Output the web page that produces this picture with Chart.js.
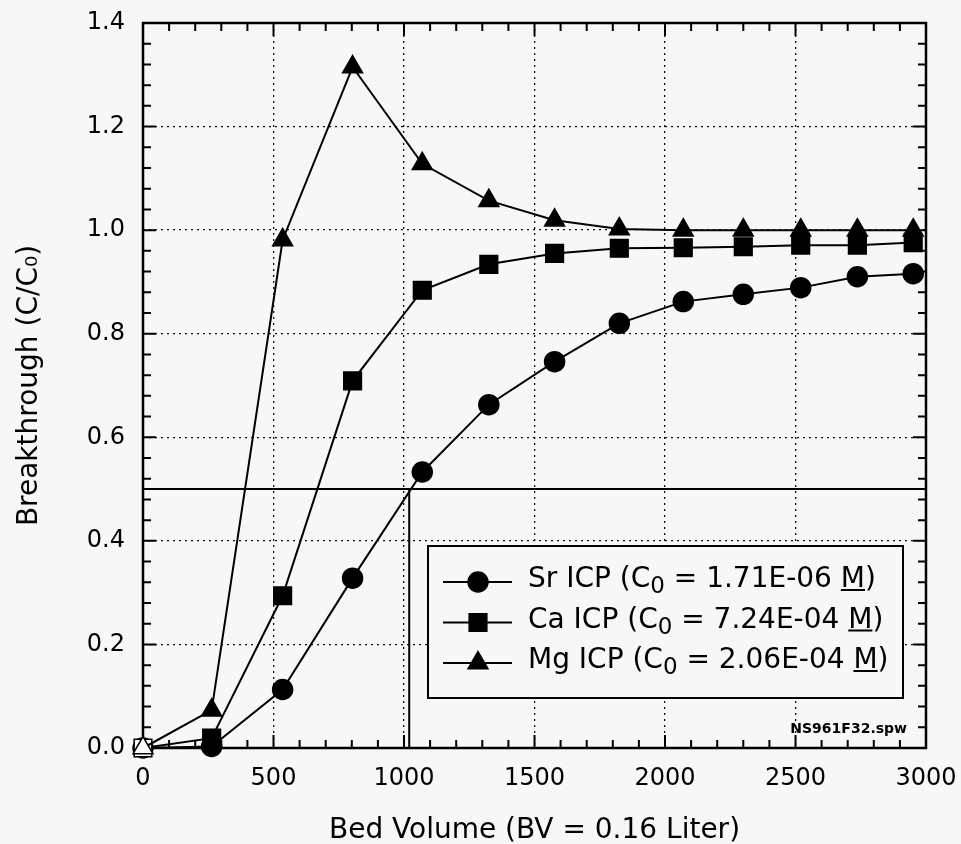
<!DOCTYPE html>
<html>
<head>
<meta charset="utf-8">
<script src="https://cdn.jsdelivr.net/npm/chart.js@4.4.1/dist/chart.umd.min.js"></script>
<style>
  html, body { margin: 0; padding: 0; background: #f7f7f7; }
  canvas { display: block; }
</style>
</head>
<body>
<canvas id="bt" width="961" height="844"></canvas>
<script>
// bed volumes (BV) of the samples
const bedVolume = [0, 263, 535, 803, 1070, 1325, 1577, 1825, 2070, 2300, 2520, 2737, 2951];
// breakthrough C/C0
const srICP = [0, 0.003, 0.113, 0.328, 0.533, 0.663, 0.746, 0.820, 0.862, 0.876, 0.889, 0.910, 0.916];
const caICP = [0, 0.019, 0.294, 0.709, 0.884, 0.934, 0.955, 0.965, 0.966, 0.968, 0.971, 0.971, 0.976];
const mgICP = [0, 0.073, 0.981, 1.315, 1.128, 1.057, 1.019, 1.002, 1.0, 1.0, 1.0, 1.0, 1.0];

const seriesNames = ["Sr ICP", "Ca ICP", "Mg ICP"];
const c0Values = ["1.71E-06", "7.24E-04", "2.06E-04"];

// 50% breakthrough marker
const halfBreakthrough = 0.5;
const halfBreakthroughBV = 1020;

const xTitle = "Bed Volume (BV = 0.16 Liter)";
const yTitle = "Breakthrough (C/C\u2080)";
const fileTag = "NS961F32.spw";

const FONT = '"DejaVu Sans", sans-serif';
const BG = "#f7f7f7";

const pts = ys => bedVolume.map((x, i) => ({ x, y: ys[i] }));
const fills = bedVolume.map((_, i) => i === 0 ? "#ffffff" : "#000000");

const styles = [
  { pointStyle: "circle", radius: 10 },
  { pointStyle: "rect", radius: 12.5 },
  { pointStyle: "triangle", radius: 11.5 }
];

function marker(ctx, style, r, x, y) {
  ctx.beginPath();
  if (style === "circle") {
    ctx.arc(x, y, r, 0, Math.PI * 2);
  } else if (style === "rect") {
    const h = r * Math.SQRT1_2;
    ctx.rect(x - h, y - h, 2 * h, 2 * h);
  } else {
    for (let k = 0; k < 3; k++) {
      const a = -Math.PI / 2 + k * 2 * Math.PI / 3;
      const px = x + Math.cos(a) * r, py = y + Math.sin(a) * r;
      k === 0 ? ctx.moveTo(px, py) : ctx.lineTo(px, py);
    }
    ctx.closePath();
  }
  ctx.fillStyle = "#000";
  ctx.fill();
  ctx.lineWidth = 1.5;
  ctx.strokeStyle = "#000";
  ctx.stroke();
}

const framePlugin = {
  id: "frame",
  beforeDraw(chart) {
    const ctx = chart.ctx;
    ctx.save();
    ctx.fillStyle = BG;
    ctx.fillRect(0, 0, chart.width, chart.height);
    ctx.restore();
  },
  beforeDatasetsDraw(chart) {
    const { ctx, chartArea: a, scales: { x, y } } = chart;
    ctx.save();
    ctx.strokeStyle = "#000";
    ctx.lineWidth = 2;
    ctx.beginPath();
    // inward ticks, minor every 100 BV and 0.04
    for (let i = 0; i <= 30; i++) {
      const px = x.getPixelForValue(i * 100);
      const len = i % 5 === 0 ? 13 : 8;
      ctx.moveTo(px, a.bottom); ctx.lineTo(px, a.bottom - len);
      ctx.moveTo(px, a.top); ctx.lineTo(px, a.top + len);
    }
    for (let i = 0; i <= 35; i++) {
      const py = y.getPixelForValue(i * 0.04);
      const len = i % 5 === 0 ? 13 : 8;
      ctx.moveTo(a.left, py); ctx.lineTo(a.left + len, py);
      ctx.moveTo(a.right, py); ctx.lineTo(a.right - len, py);
    }
    ctx.stroke();
    ctx.lineWidth = 2.5;
    ctx.strokeRect(a.left, a.top, a.right - a.left, a.bottom - a.top);
    ctx.restore();
  },
  afterDatasetsDraw(chart) {
    const ctx = chart.ctx;
    ctx.save();
    // legend box
    const bx = 428, by = 546, bw = 475, bh = 152;
    ctx.fillStyle = BG;
    ctx.fillRect(bx, by, bw, bh);
    ctx.strokeStyle = "#000";
    ctx.lineWidth = 2;
    ctx.strokeRect(bx, by, bw, bh);
    seriesNames.forEach((name, i) => {
      const cy = 582 + i * 40.5;
      ctx.strokeStyle = "#000";
      ctx.lineWidth = 2;
      ctx.beginPath();
      ctx.moveTo(443, cy); ctx.lineTo(512, cy);
      ctx.stroke();
      marker(ctx, styles[i].pointStyle, styles[i].radius, 478, cy);

      const base = cy + 5;
      let tx = 528;
      ctx.fillStyle = "#000";
      ctx.textBaseline = "alphabetic";
      ctx.textAlign = "left";
      ctx.font = "28px " + FONT;
      const a = name + " (C";
      ctx.fillText(a, tx, base); tx += ctx.measureText(a).width;
      ctx.font = "23px " + FONT;
      ctx.fillText("0", tx, base + 6); tx += ctx.measureText("0").width;
      ctx.font = "28px " + FONT;
      const b = " = " + c0Values[i] + " ";
      ctx.fillText(b, tx, base); tx += ctx.measureText(b).width;
      const mw = ctx.measureText("M").width;
      ctx.fillText("M", tx, base);
      ctx.fillRect(tx, base + 2, mw, 2);
      tx += mw;
      ctx.fillText(")", tx, base);
    });
    ctx.font = "bold 14px " + FONT;
    ctx.textAlign = "right";
    ctx.fillText(fileTag, 907, 733);
    ctx.restore();
  }
};

const series = [srICP, caICP, mgICP].map((ys, i) => ({
  label: seriesNames[i],
  data: pts(ys),
  borderColor: "#000",
  borderWidth: 2,
  pointStyle: styles[i].pointStyle,
  pointRadius: styles[i].radius,
  pointBackgroundColor: fills,
  pointBorderColor: "#000",
  pointBorderWidth: 1.5,
  tension: 0,
  clip: false,
  order: 3 - i
}));

const noPad = s => { s.paddingLeft = 0; s.paddingRight = 0; s.paddingTop = 0; s.paddingBottom = 0; };

new Chart(document.getElementById("bt"), {
  type: "line",
  data: {
    datasets: [
      ...series,
      {
        label: "C/C0 = 0.5",
        data: [{ x: 0, y: halfBreakthrough }, { x: 3000, y: halfBreakthrough }],
        borderColor: "#000", borderWidth: 2, pointRadius: 0, order: 5
      },
      {
        label: "BV at 0.5",
        data: [{ x: halfBreakthroughBV, y: halfBreakthrough }, { x: halfBreakthroughBV, y: 0 }],
        borderColor: "#000", borderWidth: 2, pointRadius: 0, order: 5
      }
    ]
  },
  options: {
    responsive: false,
    animation: false,
    devicePixelRatio: 1,
    layout: { padding: { top: 23, right: 35, left: 0, bottom: 0 } },
    plugins: { legend: { display: false }, tooltip: { enabled: false } },
    scales: {
      x: {
        type: "linear",
        min: 0, max: 3000,
        ticks: { stepSize: 500, color: "#000", font: { family: FONT, size: 24 }, padding: 16, maxRotation: 0, callback: v => String(v) },
        grid: { color: "#111", lineWidth: 1.3, drawTicks: false },
        border: { display: false, dash: [2, 4] },
        title: { display: true, text: xTitle, color: "#000", font: { family: FONT, size: 28 }, padding: { top: 0, bottom: -4 } },
        afterFit: s => { s.height = 96; noPad(s); }
      },
      y: {
        min: 0, max: 1.4,
        ticks: { stepSize: 0.2, color: "#000", font: { family: FONT, size: 24 }, padding: 18, callback: v => v.toFixed(1) },
        grid: { color: "#111", lineWidth: 1.3, drawTicks: false },
        border: { display: false, dash: [2, 4] },
        title: { display: true, text: yTitle, color: "#000", font: { family: FONT, size: 28 }, padding: { top: 13, bottom: 0 } },
        afterFit: s => { s.width = 143; noPad(s); }
      }
    }
  },
  plugins: [framePlugin]
});
</script>
</body>
</html>
